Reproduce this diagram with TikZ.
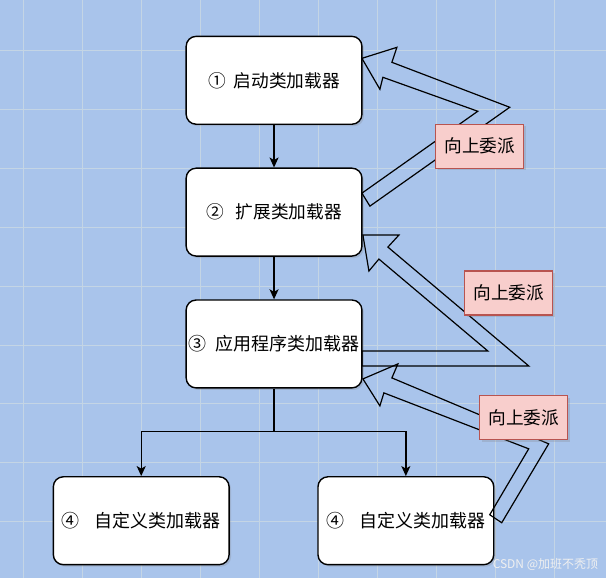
\documentclass[tikz,border=0pt]{standalone}
\usepackage{fontspec}
\setmainfont{Noto Sans CJK SC}
\usetikzlibrary{arrows.meta, shadows}
\definecolor{canvas}{HTML}{A9C4EB}
\definecolor{gridline}{HTML}{C4D5E5}
\definecolor{tagfill}{HTML}{F8CECC}
\definecolor{tagdraw}{HTML}{B85450}
\tikzstyle{flow} = [line width=1.3pt,-{Stealth[length=10pt,width=9pt,inset=2.5pt]}]
\tikzstyle{loader} = [rectangle, rounded corners=10pt, minimum width=176pt, minimum height=88pt, inner sep=0pt, text centered, draw=black, line width=1.4pt, fill=white, drop shadow={opacity=0.25,shadow xshift=2pt,shadow yshift=-2pt}, font=\fontsize{17.7}{20}\selectfont]
\tikzstyle{bigtext} = [font=\fontsize{18}{20.6}\selectfont]
\tikzstyle{tag} = [rectangle, minimum width=88pt, minimum height=44pt, draw=tagdraw, line width=1.2pt, fill=tagfill, drop shadow={opacity=0.25,shadow xshift=2pt,shadow yshift=-2pt}, font=\fontsize{17.7}{20}\selectfont]
\tikzstyle{hollow} = [line width=1.2pt, line join=miter]

\begin{document}
\begin{tikzpicture}[x=1pt, y=-1pt, node distance=132pt]
        % canvas and grid
        \fill [canvas] (0,0) rectangle (606,578);
        \foreach \gx in {23.5,82.5,...,554.5}
            \draw [gridline, line width=0.8pt] (\gx,0) -- (\gx,578);
        \foreach \gy in {50,109,...,522}
            \draw [gridline, line width=0.8pt] (0,\gy) -- (606,\gy);
        % loaders
        \node (boot) [loader] at (274,80) {①\hspace{8pt}启动类加载器};
        \node (ext) [loader, below of=boot] {②\hspace{12pt}扩展类加载器};
        \node (app) [loader, bigtext, below of=ext] {③\hspace{9pt}应用程序类加载器};
        \node (custA) [loader, bigtext, below of=app, xshift=-133pt, yshift=-45pt] {④\hspace{15pt}自定义类加载器};
        \node (custB) [loader, bigtext, below of=app, xshift=132pt, yshift=-45pt] {④\hspace{15pt}自定义类加载器};
        \coordinate (fork) at (274,432);
        \draw [flow] (boot) -- (ext);
        \draw [flow] (ext) -- (app);
        \draw [line width=1.3pt] (app) -- (fork);
        \draw [flow] (fork) -| (custA);
        \draw [flow] (fork) -| (custB);
        % delegation arrows
        \draw [hollow] (362,193) -- (370,206) -- (510,107) -- (392,62) -- (397,47)
            -- (362,58) -- (380,89) -- (383,77) -- (478,111) -- cycle;
        \draw [hollow] (362,351) -- (362,366) -- (529,366) -- (388,247) -- (399,235)
            -- (363,235) -- (369,271) -- (379,259) -- (488,351) -- cycle;
        \draw [hollow] (490,515) -- (502,523) -- (549,444) -- (392,378) -- (398,364)
            -- (363,379) -- (380,406) -- (384,393) -- (529,449) -- cycle;
        \node (up1) [tag] at (480,146) {向上委派};
        \node (up2) [tag] at (509,293) {向上委派};
        \node (up3) [tag] at (524,418) {向上委派};
        \node (mark) [anchor=east, text=white!88!gray, font=\fontsize{12}{12}\selectfont] at (602,565) {CSDN @加班不秃顶};
    \end{tikzpicture}
\end{document}
